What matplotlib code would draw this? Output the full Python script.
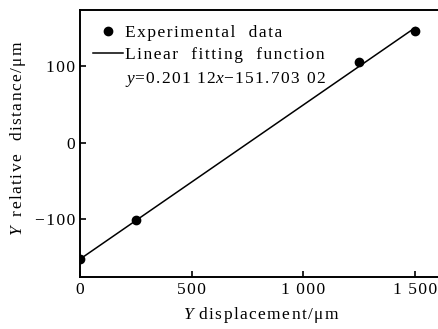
import numpy as np
import matplotlib.pyplot as plt

plt.rcParams['font.family'] = 'Liberation Serif'
plt.rcParams['mathtext.fontset'] = 'custom'
plt.rcParams['mathtext.rm'] = 'Liberation Serif'
plt.rcParams['mathtext.it'] = 'Liberation Serif:italic'

# experimental points
disp = [0, 250, 1250, 1500]
rel_dist = [-152, -101, 105, 146]

# fitted line
slope = 0.20112
intercept = -151.70302
fit_x = np.array([0, 1500])
fit_y = slope * fit_x + intercept

xticks = [0, 500, 1000, 1500]
xticklabels = ['0', '500', '1\u2009000', '1\u2009500']
yticks = [-100, 0, 100]
yticklabels = ['\u2212100', '0', '100']


def track(s):
    # widen letter spacing with hair spaces, the source uses loose tracking
    return '\u200a'.join(s)


fig = plt.figure(figsize=(4.38, 3.29), dpi=100)
ax = fig.add_axes([80 / 438, 52 / 329, 362 / 438, 267 / 329])

eq = r'$y$' + track('=0.201\u200912') + r'$x$' + track('\u2212151.703\u200902')
ax.plot(disp, rel_dist, 'o', c='k', ms=6, label=track('Experimental  data'))
ax.plot(fit_x, fit_y, c='k', lw=1.1, label=track('Linear  fitting  function'))
ax.plot([], [], ' ', label=eq)

ax.set_xlim(0, 1620)
ax.set_ylim(-175, 173)
ax.set_xticks(xticks)
ax.set_xticklabels([track(t) for t in xticklabels])
ax.set_yticks(yticks)
ax.set_yticklabels([track(t) for t in yticklabels])
ax.tick_params(direction='in', length=4, width=1.2, labelsize=12.5, colors='k')
for s in ax.spines.values():
    s.set_linewidth(1.4)

ax.set_xlabel(r'$Y$' + track(' displacement/μm'), fontsize=12.5, labelpad=5)
ax.set_ylabel(r'$Y$ ' + track(' relative  distance/μm'), fontsize=12.5)
ax.yaxis.set_label_coords(-0.144, 0.52)

leg = ax.legend(loc='upper left', frameon=False, fontsize=12.5, handlelength=1.75,
                handletextpad=0.1, borderaxespad=0.0, borderpad=0.85,
                labelspacing=0.36, bbox_to_anchor=(-0.005, 1.0))

fig.savefig('out.png', dpi=100)
